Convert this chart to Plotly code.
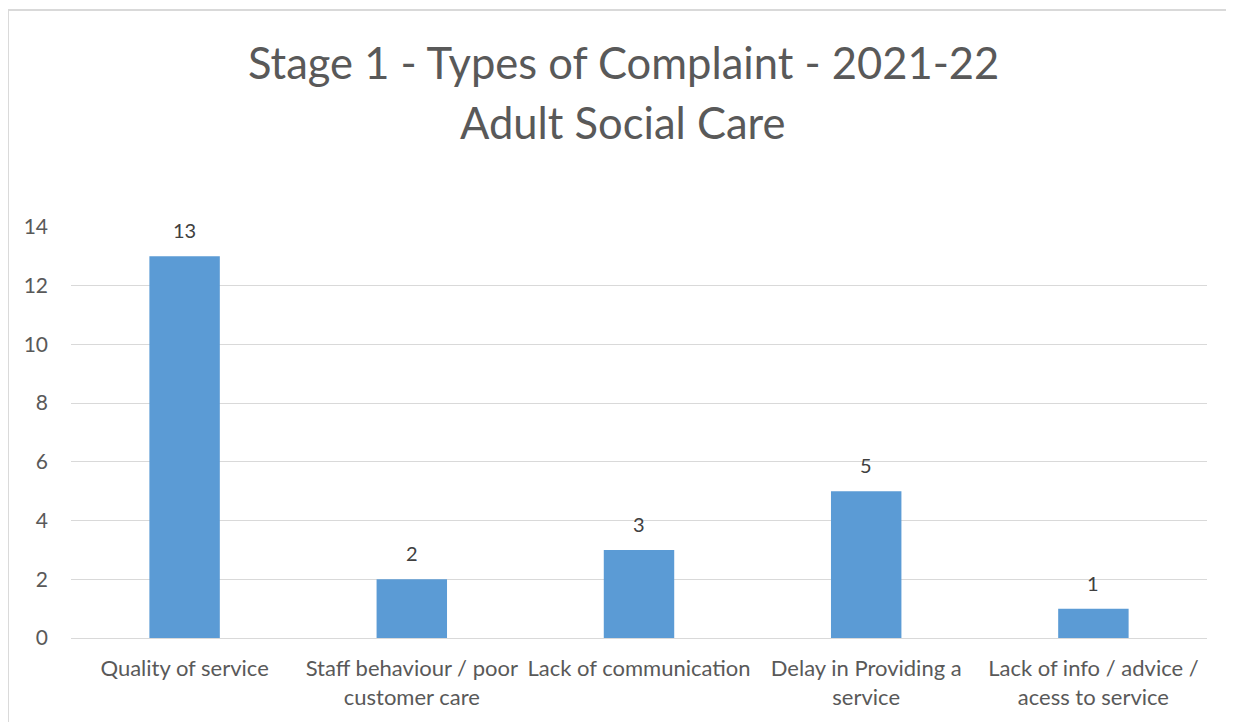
import plotly.graph_objects as go

categories = ['Quality of service', 'Staff behaviour / poor<br>customer care',
              'Lack of communication', 'Delay in Providing a<br>service',
              'Lack of info / advice /<br>acess to service']
complaints = [13, 2, 3, 5, 1]
y_ticks = [0, 2, 4, 6, 8, 10, 12, 14]
title_lines = ['Stage 1 - Types of Complaint - 2021-22', 'Adult Social Care']

font_family = 'Lato, Open Sans, sans-serif'

fig = go.Figure()
fig.add_trace(go.Bar(x=categories,
                     y=complaints,
                     marker=dict(color='#5b9bd5', line=dict(width=0)),
                     hoverinfo='x+y'))

# data labels sit a little higher than plotly's 'outside' text
for cat, val in zip(categories, complaints):
    fig.add_annotation(x=cat, y=val, text=str(val), showarrow=False,
                       yanchor='middle', yshift=26,
                       font=dict(size=20, color='#404040', family=font_family))

# two-line title placed line by line (paper coords above the plot)
for line, ypos in zip(title_lines, [1.401, 1.2555]):
    fig.add_annotation(xref='paper', yref='paper', x=0.486, y=ypos,
                       text=line, showarrow=False, xanchor='center',
                       yanchor='middle',
                       font=dict(size=43.5, color='#595959', family=font_family))

fig.update_layout(
    width=1234, height=722,
    margin=dict(l=63, r=35, t=219, b=92),
    paper_bgcolor='white', plot_bgcolor='white',
    font=dict(family=font_family, color='#595959'),
    bargap=0.69,
    showlegend=False,
)
fig.update_xaxes(tickfont=dict(size=22, color='#595959'), showline=True,
                 linecolor='#d9d9d9', linewidth=1, ticks='',
                 ticklabelstandoff=11)
fig.update_yaxes(range=[0, 14], tickvals=y_ticks, showgrid=True,
                 gridcolor='#d9d9d9', gridwidth=1, zeroline=False,
                 tickfont=dict(size=21, color='#595959'), ticks='',
                 ticklabelstandoff=22)

# light chart frame like the spreadsheet one (top and left edges)
fig.add_shape(type='line', xref='paper', yref='paper',
              x0=-0.0563, x1=1.2, y0=1.528, y1=1.528,
              line=dict(color='#d9d9d9', width=2))
fig.add_shape(type='line', xref='paper', yref='paper',
              x0=-0.0555, x1=-0.0555, y0=-0.3, y1=1.528,
              line=dict(color='#d9d9d9', width=2))

fig.write_html("out.html")
